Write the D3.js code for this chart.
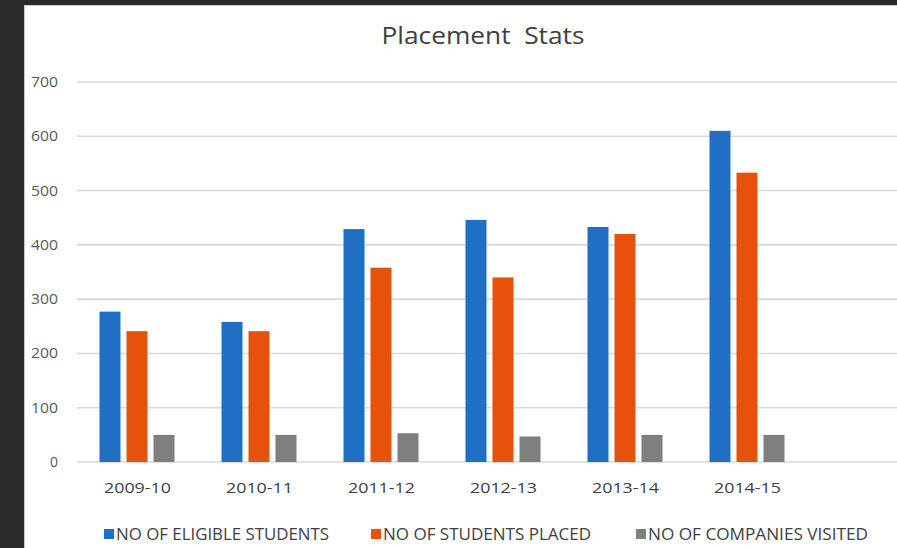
<!DOCTYPE html>
<html>
<head>
<meta charset="utf-8">
<script src="https://cdn.jsdelivr.net/npm/d3@7"></script>
<style>
  html, body { margin: 0; padding: 0; background: #2a2a2a; overflow: hidden; }
  svg { display: block; }
</style>
</head>
<body>
<script>
const categories = ["2009-10", "2010-11", "2011-12", "2012-13", "2013-14", "2014-15"];
const seriesNames = ["NO OF ELIGIBLE STUDENTS", "NO OF STUDENTS PLACED", "NO OF COMPANIES VISITED"];
const eligibleStudents = [277, 258, 429, 446, 433, 610];
const studentsPlaced = [241, 241, 358, 340, 420, 533];
const companiesVisited = [50, 50, 53, 47, 50, 50];
const yTicks = [0, 100, 200, 300, 400, 500, 600, 700];
const colors = ["#1f6fc4", "#e6520c", "#7f7f7f"];

const W = 897, H = 548;
const seriesValues = [eligibleStudents, studentsPlaced, companiesVisited];

const svg = d3.select("body").append("svg").attr("width", W).attr("height", H);

// dark frame + white panel
svg.append("rect").attr("x", 0).attr("y", 0).attr("width", W).attr("height", H).attr("fill", "#2a2a2a");
svg.append("rect").attr("x", 24).attr("y", 5).attr("width", W - 24).attr("height", H - 5).attr("fill", "#ffffff");
svg.append("path").attr("d", `M24.5,${H} V5.5 H${W}`).attr("fill", "none").attr("stroke", "#c8c8c8").attr("stroke-width", 1);

const font = "'Open Sans', 'DejaVu Sans', sans-serif";

// scales
const y = d3.scaleLinear().domain([0, 700]).range([462, 82]);
const x0 = d3.scaleBand().domain(categories).range([76.5, 808.5]).padding(0);
const x1 = d3.scaleBand().domain(seriesNames).range([23, 98]).paddingInner(0.222).paddingOuter(0);

// gridlines
svg.append("g").selectAll("line").data(yTicks).join("line")
  .attr("x1", 77).attr("x2", W)
  .attr("y1", d => y(d)).attr("y2", d => y(d))
  .attr("stroke", "#d9d9d9").attr("stroke-width", 1.6);

// y axis labels
const yAxis = d3.axisLeft(y).tickValues(yTicks).tickSize(0).tickPadding(0);
const gy = svg.append("g").attr("transform", "translate(58,0)").call(yAxis);
gy.select(".domain").remove();
gy.selectAll("text").attr("font-family", font).attr("font-size", 14).attr("fill", "#595959")
  .attr("textLength", d => d === 0 ? null : 27).attr("lengthAdjust", "spacingAndGlyphs");

// bars
const groups = svg.append("g").selectAll("g").data(categories).join("g")
  .attr("transform", d => `translate(${x0(d)},0)`);
groups.selectAll("rect")
  .data((c, i) => seriesNames.map((s, j) => ({ s, j, v: seriesValues[j][i] })))
  .join("rect")
  .attr("x", d => x1(d.s))
  .attr("width", x1.bandwidth())
  .attr("y", d => y(d.v))
  .attr("height", d => y(0) - y(d.v))
  .attr("fill", d => colors[d.j]);

// x axis labels
const xAxis = d3.axisBottom(x0).tickSize(0).tickPadding(0);
const gx = svg.append("g").attr("transform", "translate(0,488)").call(xAxis);
gx.select(".domain").remove();
gx.selectAll("text").attr("font-family", font).attr("font-size", 15).attr("fill", "#404040").attr("dy", "0.35em")
  .attr("textLength", 67).attr("lengthAdjust", "spacingAndGlyphs");

// title
svg.append("text").attr("x", 483).attr("y", 44).attr("text-anchor", "middle")
  .attr("font-family", font).attr("font-size", 24).attr("fill", "#404040")
  .attr("xml:space", "preserve").attr("textLength", 203).attr("lengthAdjust", "spacingAndGlyphs")
  .text("Placement  Stats");

// legend
const legendX = [104, 371, 636];
const legendW = [213, 208, 220];
const lg = svg.append("g").selectAll("g").data(seriesNames).join("g")
  .attr("transform", (d, i) => `translate(${legendX[i]},534)`);
lg.append("rect").attr("x", 0).attr("y", -5).attr("width", 10).attr("height", 10)
  .attr("fill", (d, i) => colors[i]);
lg.append("text").attr("x", 12).attr("y", 0).attr("dy", "0.35em")
  .attr("font-family", font).attr("font-size", 16).attr("fill", "#404040")
  .attr("textLength", (d, i) => legendW[i]).attr("lengthAdjust", "spacingAndGlyphs")
  .text(d => d);
</script>
</body>
</html>
